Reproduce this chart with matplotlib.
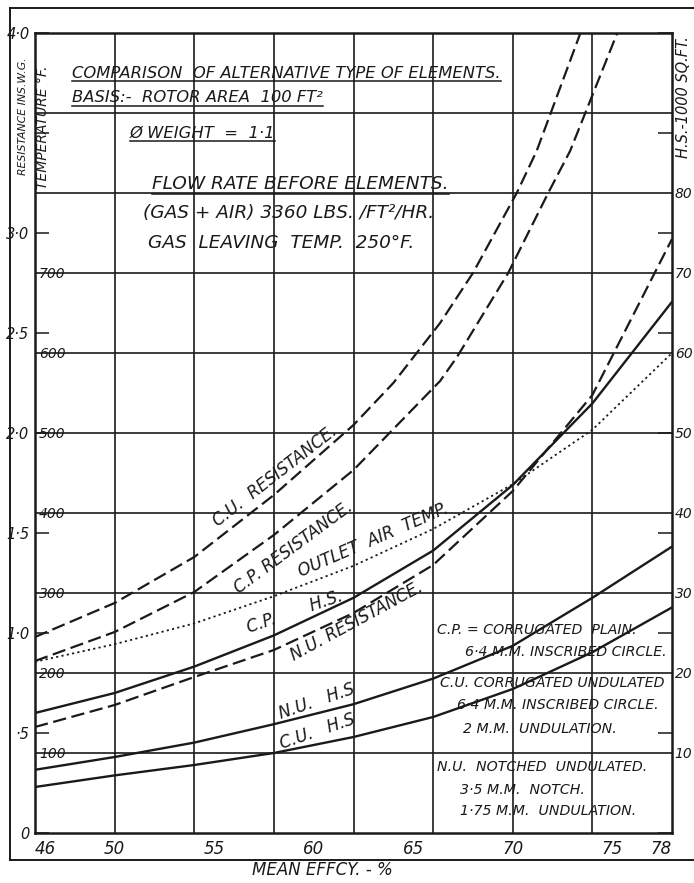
import matplotlib
matplotlib.use('Agg')
import matplotlib.pyplot as plt
from matplotlib.lines import Line2D

plt.rcParams['font.family'] = 'DejaVu Sans'
plt.rcParams['font.style'] = 'italic'

ink = '#1a1a1a'

# ---- data ----
eff = [46, 50, 54, 58, 62, 66, 70, 74, 78]

# resistance, ins. W.G.
cu_res_eff = [46, 50, 54, 58, 62, 64, 66.35, 68, 70.2, 71.2, 73.4]
cu_res = [0.98, 1.15, 1.38, 1.69, 2.04, 2.25, 2.55, 2.8, 3.2, 3.41, 4.0]
cp_res_eff = [46, 50, 54, 58, 62, 66.35, 67.2, 69.77, 71.78, 72.88, 75.25]
cp_res = [0.86, 1.005, 1.205, 1.49, 1.815, 2.26, 2.38, 2.8, 3.2, 3.41, 4.0]
nu_res = [0.53, 0.64, 0.78, 0.915, 1.10, 1.34, 1.71, 2.19, 2.97]

# outlet air temperature, deg F
outlet_temp = [214, 236, 262, 296, 334, 380, 436, 504, 600]

# heating surface, 1000 sq.ft.
cp_hs = [15.0, 17.5, 20.8, 24.7, 29.4, 35.3, 43.5, 53.7, 66.4]
nu_hs = [7.9, 9.5, 11.3, 13.6, 16.1, 19.3, 23.4, 29.4, 35.8]
cu_hs = [5.75, 7.2, 8.5, 10.0, 12.0, 14.5, 18.0, 22.6, 28.2]

x_ticks = [46, 50, 55, 60, 65, 70, 75, 78]
x_minor = [55, 60, 65, 75]
x_grid = [50, 54, 58, 62, 66, 70, 74]
y_grid = [100, 200, 300, 400, 500, 600, 700, 800, 900]
temp_ticks = [100, 200, 300, 400, 500, 600, 700]
res_ticks = [0, 0.5, 1.0, 1.5, 2.0, 2.5, 3.0, 3.5, 4.0]
res_labels = ['0', '·5', '1·0', '1·5', '2·0', '2·5', '3·0', '', '4·0']
hs_ticks = [10, 20, 30, 40, 50, 60, 70, 80]

W, H = 694, 883
fig = plt.figure(figsize=(W / 100, H / 100), dpi=100)
fig.patch.set_facecolor('white')
ax = fig.add_axes([35 / W, 1 - 833 / H, 637 / W, 800 / H])
ax.set_xlim(46, 78)
ax.set_ylim(0, 1000)
for s in ax.spines.values():
    s.set_linewidth(1.8)
    s.set_color(ink)

# grid
for g in x_grid:
    ax.axvline(g, color=ink, lw=1.2, zorder=1)
for g in y_grid:
    ax.axhline(g, color=ink, lw=1.2, zorder=1)

# x ticks
ax.set_xticks(x_ticks)
ax.set_xticklabels([str(v) for v in x_ticks], fontsize=12)
ax.set_xticks(x_minor, minor=True)
ax.tick_params(axis='x', which='major', length=0, pad=5, colors=ink)
ax.tick_params(axis='x', which='minor', direction='in', length=9, width=1.1,
               top=True, bottom=True, colors=ink)
xl = ax.get_xticklabels()
xl[0].set_ha('left')
xl[-1].set_ha('right')

# temperature labels inside the plot
ax.set_yticks(temp_ticks)
ax.set_yticklabels([str(v) for v in temp_ticks], fontsize=10)
ax.tick_params(axis='y', length=0, pad=-3, colors=ink)
for lab in ax.get_yticklabels():
    lab.set_ha('left')

# resistance axis (outside left)
ax_r = ax.twinx()
ax_r.set_ylim(0, 4)
ax_r.yaxis.tick_left()
ax_r.set_yticks(res_ticks)
ax_r.set_yticklabels(res_labels, fontsize=10.5)
ax_r.tick_params(axis='y', direction='in', length=10, width=1.1, left=True,
                 right=True, labelleft=True, labelright=False, pad=4,
                 colors=ink)
for s in ax_r.spines.values():
    s.set_visible(False)

# heating surface axis (outside right)
ax_h = ax.twinx()
ax_h.set_ylim(0, 100)
ax_h.set_yticks(hs_ticks)
ax_h.set_yticklabels([str(v) for v in hs_ticks], fontsize=10)
ax_h.tick_params(axis='y', length=0, pad=2, colors=ink)
for s in ax_h.spines.values():
    s.set_visible(False)

# curves
dash = (0, (6, 2.5))
ax_r.plot(cu_res_eff, cu_res, color=ink, lw=1.6, ls=dash)
ax_r.plot(cp_res_eff, cp_res, color=ink, lw=1.6, ls=dash)
ax_r.plot(eff, nu_res, color=ink, lw=1.6, ls=dash)
ax.plot(eff, outlet_temp, color=ink, lw=1.3, ls=(0, (1.2, 1.8)), zorder=3)
ax_h.plot(eff, cp_hs, color=ink, lw=1.7)
ax_h.plot(eff, nu_hs, color=ink, lw=1.7)
ax_h.plot(eff, cu_hs, color=ink, lw=1.7)

# header notes
hdr = dict(fontsize=11.8, color=ink, ha='left', va='center')
hdr2 = dict(hdr, fontsize=13.3)
underlined = []
underlined.append(ax.text(47.86, 950, 'COMPARISON  OF ALTERNATIVE TYPE OF ELEMENTS.', **hdr))
underlined.append(ax.text(47.86, 919, 'BASIS:-  ROTOR AREA  100 FT²', **hdr))
underlined.append(ax.text(50.77, 875, 'Ø WEIGHT  =  1·1', **hdr))
underlined.append(ax.text(51.88, 811, 'FLOW RATE BEFORE ELEMENTS.', **hdr2))
ax.text(51.43, 775, '(GAS + AIR) 3360 LBS. /FT²/HR.', **hdr2)
ax.text(51.68, 737.5, 'GAS  LEAVING  TEMP.  250°F.', **hdr2)

# curve labels
lbl = dict(fontsize=12, color=ink, ha='center', va='center', rotation_mode='anchor')
ax.text(58.06, 446, 'C.U.  RESISTANCE.', rotation=38, **lbl)
ax.text(59.0, 357, 'C.P. RESISTANCE.', rotation=36.5, **lbl)
ax.text(63.0, 366, 'OUTLET  AIR  TEMP.', rotation=23.5, **lbl)
ax.text(59.07, 276, 'C.P.       H.S.', rotation=19, **lbl)
ax.text(62.18, 264, 'N.U. RESISTANCE.', rotation=28.5, **lbl)
ax.text(60.17, 165, 'N.U.   H.S', rotation=19, **lbl)
ax.text(60.17, 127, 'C.U.   H.S', rotation=19, **lbl)

# key notes
key = dict(fontsize=10.2, color=ink, ha='left', va='center')
ax.text(66.2, 254, 'C.P. = CORRUGATED  PLAIN.', **key)
ax.text(67.6, 226, '6·4 M.M. INSCRIBED CIRCLE.', **key)
ax.text(66.35, 187.5, 'C.U. CORRUGATED UNDULATED', **key)
ax.text(67.2, 160, '6·4 M.M. INSCRIBED CIRCLE.', **key)
ax.text(67.5, 130, '2 M.M.  UNDULATION.', **key)
ax.text(66.2, 82.5, 'N.U.  NOTCHED  UNDULATED.', **key)
ax.text(67.36, 54, '3·5 M.M.  NOTCH.', **key)
ax.text(67.36, 27.5, '1·75 M.M.  UNDULATION.', **key)

# axis titles
fig.text(23 / W, 1 - 116 / H, 'RESISTANCE INS.W.G.', rotation=90,
         ha='center', va='center', fontsize=7.8, color=ink)
fig.text(43 / W, 1 - 127 / H, 'TEMPERATURE °F.', rotation=90,
         ha='center', va='center', fontsize=10, color=ink)
fig.text(683 / W, 1 - 97 / H, 'H.S.-1000 SQ.FT.', rotation=90,
         ha='center', va='center', fontsize=10.5, color=ink)
fig.text(322 / W, 1 - 870 / H, 'MEAN EFFCY. - %', ha='center', va='center',
         fontsize=12, color=ink)

# outer drawing frame
fig.add_artist(Line2D([10 / W, 10 / W], [1 - 8 / H, 1 - 860 / H], color=ink, lw=1.4))
fig.add_artist(Line2D([10 / W, 1], [1 - 8 / H, 1 - 8 / H], color=ink, lw=1.4))
fig.add_artist(Line2D([10 / W, 1], [1 - 860 / H, 1 - 860 / H], color=ink, lw=1.4))

# underline the header notes
fig.canvas.draw()
rend = fig.canvas.get_renderer()
for t in underlined:
    bb = t.get_window_extent(rend)
    y = (bb.y0 - 1) / H
    fig.add_artist(Line2D([bb.x0 / W, bb.x1 / W], [y, y], color=ink, lw=1.1))

fig.savefig('out.png', dpi=100)
